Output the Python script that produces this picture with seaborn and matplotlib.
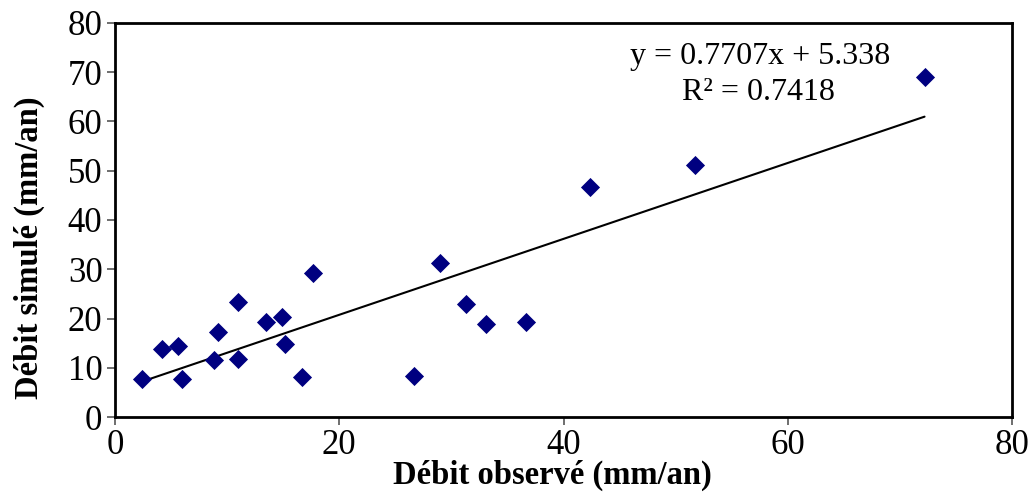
import matplotlib
matplotlib.use("Agg")
import matplotlib.pyplot as plt
import seaborn as sns
import numpy as np
import pandas as pd

# Data
debit_observe = [2.4, 4.2, 5.6, 6.0, 8.8, 9.2, 11.0, 11.0, 13.5, 14.9, 15.2, 16.7,
                 17.7, 26.7, 29.0, 31.3, 33.1, 36.7, 42.4, 51.7, 72.2]
debit_simule = [7.8, 13.9, 14.5, 7.7, 11.5, 17.3, 23.4, 11.8, 19.3, 20.3, 14.9, 8.1,
                29.2, 8.4, 31.2, 22.9, 18.9, 19.3, 46.8, 51.1, 69.1]
slope = 0.7707
intercept = 5.338
r2 = 0.7418
x_ticks = [0, 20, 40, 60, 80]
y_ticks = [0, 10, 20, 30, 40, 50, 60, 70, 80]

df = pd.DataFrame({"obs": debit_observe, "sim": debit_simule})

sns.set_style("white")
plt.rcParams["font.family"] = ["Liberation Serif", "DejaVu Serif"]
plt.rcParams["text.color"] = "black"
plt.rcParams["axes.labelcolor"] = "black"
plt.rcParams["xtick.color"] = "black"
plt.rcParams["ytick.color"] = "black"

fig = plt.figure(figsize=(10.32, 5.03), dpi=100)
ax = fig.add_axes([115 / 1032, 1 - 417 / 503, 897 / 1032, 394 / 503])

sns.scatterplot(data=df, x="obs", y="sim", marker="D", s=95, color="#000080",
                edgecolor="#000080", linewidth=0, ax=ax, zorder=3)

xline = np.array([min(debit_observe), max(debit_observe)])
ax.plot(xline, slope * xline + intercept, color="black", linewidth=1.5, zorder=2)

ax.set_xlim(0, 80)
ax.set_ylim(0, 80)
ax.set_xticks(x_ticks)
ax.set_yticks(y_ticks)
ax.tick_params(axis="both", direction="out", length=6, width=1.2, color="#555555",
               labelcolor="black", labelsize=25, pad=3, bottom=True, left=True)
for sp in ax.spines.values():
    sp.set_visible(True)
    sp.set_color("black")
    sp.set_linewidth(2)

ax.set_xlabel("Débit observé (mm/an)", fontsize=23.5, fontweight="bold", labelpad=-2)
ax.set_ylabel("Débit simulé (mm/an)", fontsize=23.5, fontweight="bold", labelpad=16)
ax.xaxis.label.set_x(0.488)
ax.yaxis.label.set_y(0.43)

ax.text(0.719, 0.915, f"y = {slope}x + {intercept}", transform=ax.transAxes,
        ha="center", va="center", fontsize=23)
ax.text(0.717, 0.823, f"R² = {r2}", transform=ax.transAxes,
        ha="center", va="center", fontsize=23)

fig.savefig("out.png", dpi=100)
